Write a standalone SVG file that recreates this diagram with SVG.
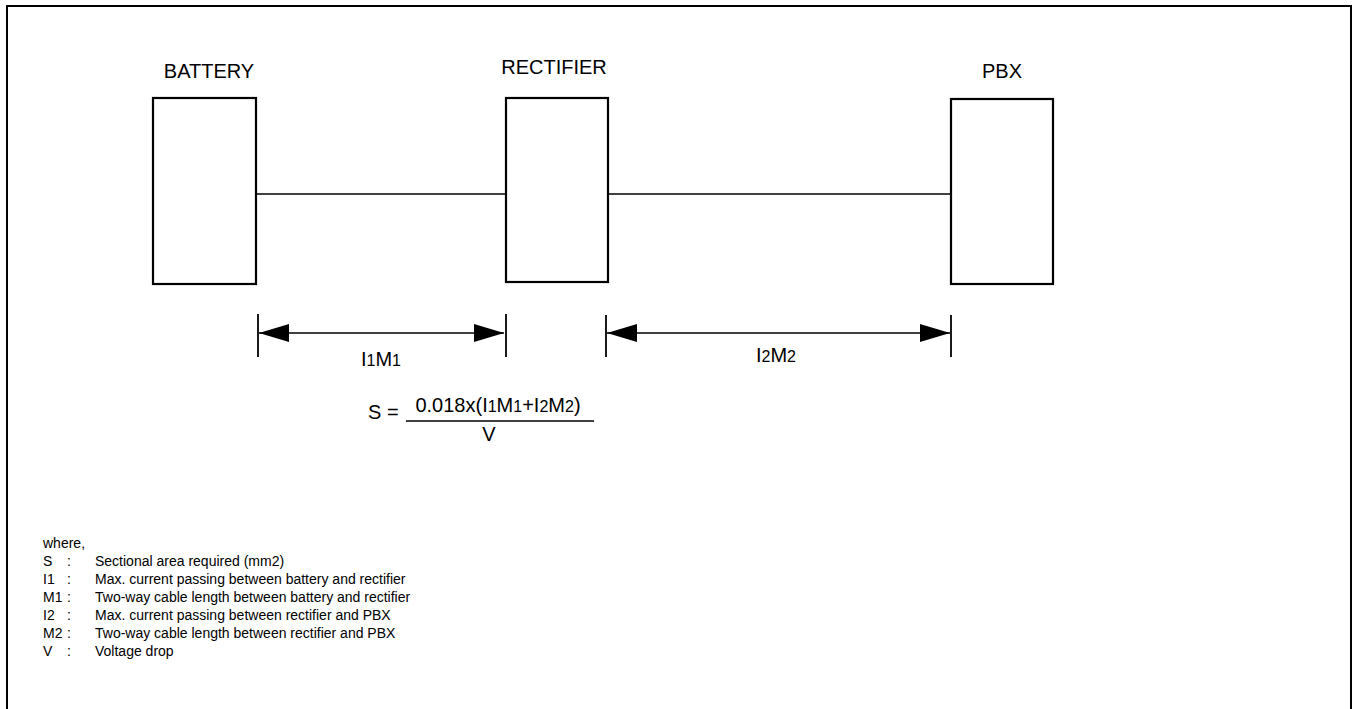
<svg xmlns="http://www.w3.org/2000/svg" width="1352" height="709" viewBox="0 0 1352 709">
<defs>
<style>
.box{fill:#fff;stroke:#000;stroke-width:2.2}
.wire{stroke:#000;stroke-width:1.6;fill:none}
.tick{stroke:#000;stroke-width:1.8}
.lbl{font-family:"Liberation Sans",Arial,sans-serif;font-size:20px;fill:#000}
.big{font-family:"Liberation Sans",Arial,sans-serif;font-size:20px;fill:#000}
.leg{font-family:"Liberation Sans",Arial,sans-serif;font-size:14px;fill:#000}
.sub{font-size:80%}
</style>
<marker id="ah" viewBox="0 0 30 18" refX="30" refY="9" markerWidth="30" markerHeight="18" markerUnits="userSpaceOnUse" orient="auto-start-reverse">
<path d="M0,0 L30,9 L0,18 Z" fill="#000"/>
</marker>
</defs>
<rect width="1352" height="709" fill="#fff"/>
<rect x="7" y="6" width="1344" height="720" fill="none" stroke="#000" stroke-width="2"/>
<g id="battery">
<rect class="box" x="153" y="98" width="103" height="186"/>
<text class="lbl" x="209" y="78" text-anchor="middle">BATTERY</text>
</g>
<g id="rectifier">
<rect class="box" x="506" y="98" width="102" height="184"/>
<text class="lbl" x="554" y="74" text-anchor="middle">RECTIFIER</text>
</g>
<g id="pbx">
<rect class="box" x="951" y="99" width="102" height="185"/>
<text class="lbl" x="1002" y="78" text-anchor="middle">PBX</text>
</g>
<g id="connectors">
<line class="wire" x1="256" y1="194" x2="506" y2="194"/>
<line class="wire" x1="608" y1="194" x2="951" y2="194"/>
</g>
<g id="dimensions">
<line class="tick" x1="258" y1="314" x2="258" y2="357"/>
<line class="tick" x1="506" y1="314" x2="506" y2="357"/>
<line class="wire" x1="259" y1="333" x2="504" y2="333" marker-start="url(#ah)" marker-end="url(#ah)"/>
<text class="lbl" x="381" y="366" text-anchor="middle">I<tspan class="sub">1</tspan>M<tspan class="sub">1</tspan></text>
<line class="tick" x1="606" y1="315" x2="606" y2="357"/>
<line class="tick" x1="951" y1="315" x2="951" y2="357"/>
<line class="wire" x1="607" y1="333" x2="950" y2="333" marker-start="url(#ah)" marker-end="url(#ah)"/>
<text class="lbl" x="776" y="362" text-anchor="middle">I<tspan class="sub">2</tspan>M<tspan class="sub">2</tspan></text>
</g>
<g id="formula">
<text class="big" x="368" y="419">S =</text>
<text class="big" x="498" y="412" text-anchor="middle">0.018x(I<tspan class="sub">1</tspan>M<tspan class="sub">1</tspan>+I<tspan class="sub">2</tspan>M<tspan class="sub">2</tspan>)</text>
<line class="wire" x1="406" y1="421" x2="594" y2="421"/>
<text class="big" x="489" y="441" text-anchor="middle">V</text>
</g>
<g id="legend" class="leg">
<text x="43" y="548">where,</text>
<text x="43" y="566">S</text><text x="67" y="566">:</text><text x="95" y="566">Sectional area required (mm2)</text>
<text x="43" y="584">I1</text><text x="67" y="584">:</text><text x="95" y="584">Max. current passing between battery and rectifier</text>
<text x="43" y="602">M1</text><text x="67" y="602">:</text><text x="95" y="602">Two-way cable length between battery and rectifier</text>
<text x="43" y="620">I2</text><text x="67" y="620">:</text><text x="95" y="620">Max. current passing between rectifier and PBX</text>
<text x="43" y="638">M2</text><text x="67" y="638">:</text><text x="95" y="638">Two-way cable length between rectifier and PBX</text>
<text x="43" y="656">V</text><text x="67" y="656">:</text><text x="95" y="656">Voltage drop</text>
</g>
</svg>
